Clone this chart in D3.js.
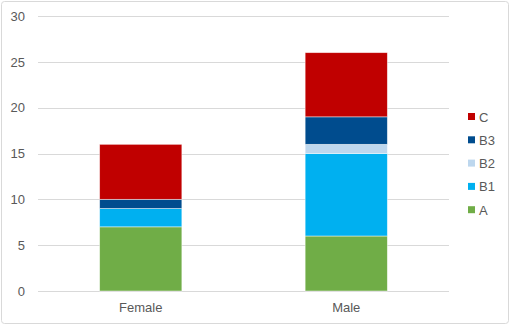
<!DOCTYPE html>
<html>
<head>
<meta charset="utf-8">
<script src="https://cdn.jsdelivr.net/npm/d3@7"></script>
<style>
  body { margin: 0; background: #fff; }
  svg { display: block; font-family: "Liberation Sans", Arial, sans-serif; }
</style>
</head>
<body>
<div id="chart"></div>
<script>
// Data
const categories = ["Female", "Male"];
const seriesNames = ["A", "B1", "B2", "B3", "C"];
const valuesA = [7, 6];
const valuesB1 = [2, 9];
const valuesB2 = [0, 1];
const valuesB3 = [1, 3];
const valuesC = [6, 7];
const yTicks = [0, 5, 10, 15, 20, 25, 30];
const seriesColors = ["#70AD47", "#00B0F0", "#BDD7EE", "#004C8E", "#C00000"];

const width = 510, height = 326;
const margin = { top: 16, right: 61, bottom: 35, left: 38 };
const plotW = width - margin.left - margin.right;
const plotH = height - margin.top - margin.bottom;

// Build rows for the stack
const seriesValues = [valuesA, valuesB1, valuesB2, valuesB3, valuesC];
const rows = categories.map((c, i) => {
    const r = { cat: c };
    seriesNames.forEach((s, j) => { r[s] = seriesValues[j][i]; });
    return r;
});

const svg = d3.select("#chart")
    .append("svg")
    .attr("width", width)
    .attr("height", height);

// Outer chart border
svg.append("rect")
    .attr("x", 1.5).attr("y", 1.5)
    .attr("width", width - 3).attr("height", height - 4)
    .attr("rx", 3)
    .attr("fill", "#fff")
    .attr("stroke", "#D9D9D9")
    .attr("stroke-width", 1);

const g = svg.append("g")
    .attr("transform", `translate(${margin.left},${margin.top})`);

const x = d3.scaleBand()
    .domain(categories)
    .range([0, plotW])
    .paddingInner(0.6)
    .paddingOuter(0.3);

const y = d3.scaleLinear()
    .domain([0, 30])
    .range([plotH, 0]);

const color = d3.scaleOrdinal()
    .domain(seriesNames)
    .range(seriesColors);

// Gridlines
g.append("g")
    .selectAll("line")
    .data(yTicks)
    .join("line")
    .attr("x1", 0).attr("x2", plotW)
    .attr("y1", d => Math.round(y(d)) + 0.5)
    .attr("y2", d => Math.round(y(d)) + 0.5)
    .attr("stroke", "#D9D9D9")
    .attr("stroke-width", 1);

// Y axis labels
const yAxis = g.append("g")
    .attr("transform", "translate(-13,0)")
    .call(d3.axisLeft(y).tickValues(yTicks).tickSize(0).tickPadding(0));
yAxis.select(".domain").remove();
yAxis.selectAll("text")
    .attr("fill", "#595959")
    .style("font-size", "13px")
    .style("font-family", "'Liberation Sans', Arial, sans-serif");

// Stacked bars
const stacked = d3.stack().keys(seriesNames)(rows);
g.append("g")
    .selectAll("g")
    .data(stacked)
    .join("g")
    .attr("fill", d => color(d.key))
    .selectAll("rect")
    .data(d => d)
    .join("rect")
    .attr("x", d => x(d.data.cat))
    .attr("y", d => y(d[1]))
    .attr("width", x.bandwidth())
    .attr("height", d => y(d[0]) - y(d[1]))
    .attr("stroke", "rgba(255,255,255,0.6)")
    .attr("stroke-width", 0.75);

// X axis labels
const xAxis = g.append("g")
    .attr("transform", `translate(0,${plotH})`)
    .call(d3.axisBottom(x).tickSize(0).tickPadding(12));
xAxis.select(".domain").remove();
xAxis.selectAll("text")
    .attr("fill", "#595959")
    .style("font-size", "13px")
    .style("font-family", "'Liberation Sans', Arial, sans-serif");

// Legend (reverse order, C on top)
const legendItems = seriesNames.slice().reverse();
const legend = svg.append("g")
    .attr("transform", "translate(468,117)");
const li = legend.selectAll("g")
    .data(legendItems)
    .join("g")
    .attr("transform", (d, i) => `translate(0,${i * 23.3})`);
li.append("rect")
    .attr("x", 0).attr("y", -4)
    .attr("width", 7).attr("height", 7)
    .attr("fill", d => color(d));
li.append("text")
    .attr("x", 11)
    .attr("y", 0)
    .attr("dy", "0.35em")
    .attr("fill", "#595959")
    .style("font-size", "13px")
    .text(d => d);
</script>
</body>
</html>
